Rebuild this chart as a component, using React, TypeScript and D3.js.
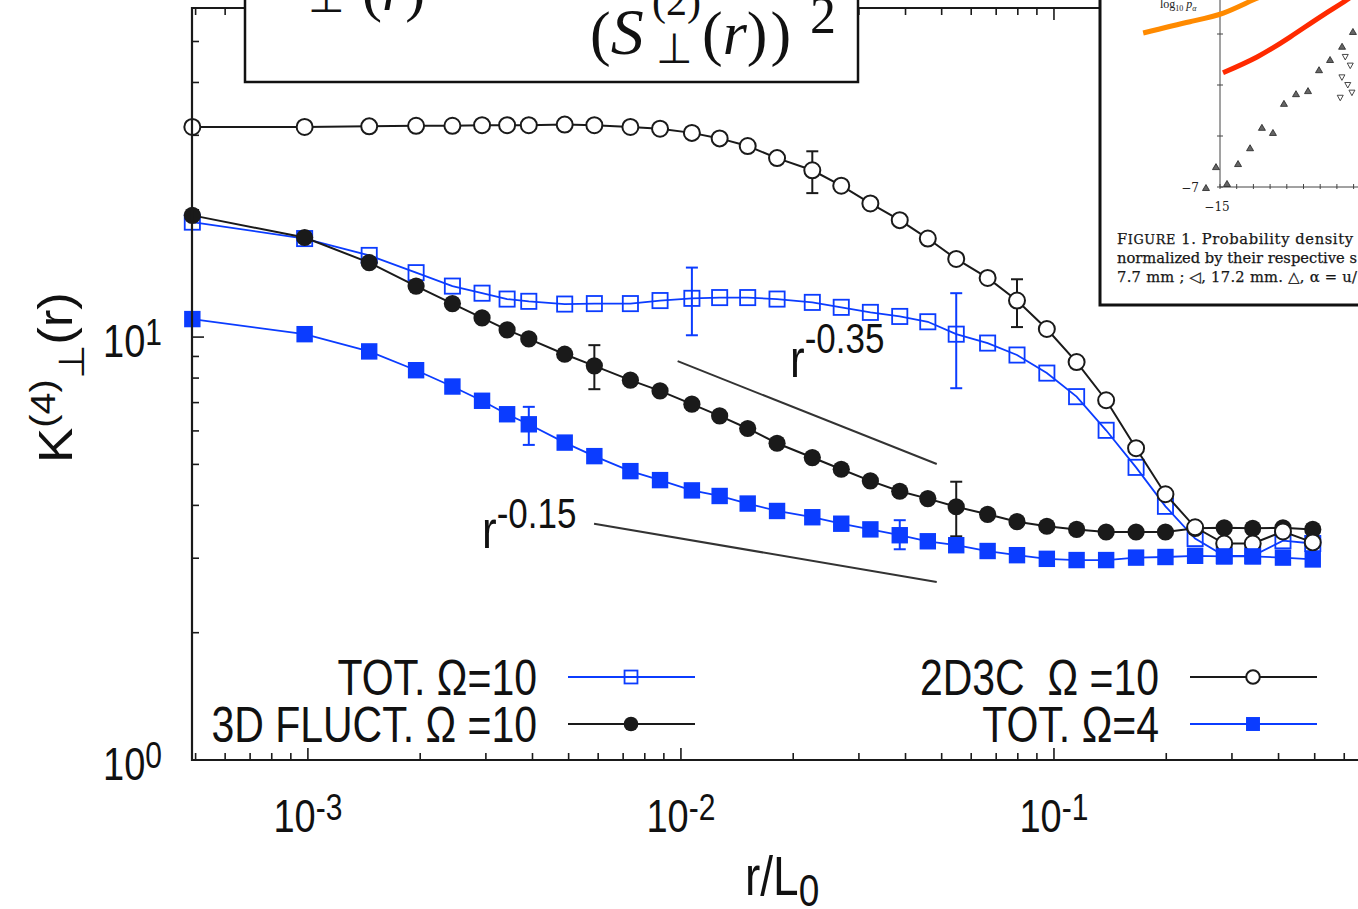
import React from "react";
import * as d3 from "d3";

// Separations r/L0 shared by the four curves
const rOverL0 = [
  0.00049, 0.00098, 0.00146, 0.00195, 0.00244, 0.00293, 0.00342, 0.00391,
  0.00488, 0.00586, 0.00732, 0.00879, 0.0107, 0.0127, 0.0151, 0.0181,
  0.0225, 0.0269, 0.0322, 0.0386, 0.0459, 0.0547, 0.0664, 0.0796,
  0.0957, 0.115, 0.138, 0.166, 0.199, 0.239, 0.286, 0.341, 0.411, 0.494,
];

// K_perp^(4)(r) for each run
const kTot10 = [
  18.7, 17.1, 15.6, 14.2, 13.2, 12.7, 12.3, 12.15, 11.97, 12.0, 12.0, 12.2,
  12.35, 12.4, 12.4, 12.3, 12.08, 11.76, 11.44, 11.19, 10.87, 10.16, 9.68,
  9.07, 8.22, 7.23, 6.02, 4.92, 3.98, 3.34, 3.04, 3.04, 3.3, 3.25,
];
const kFluct10 = [
  19.4, 17.2, 15.0, 13.2, 12.0, 11.1, 10.4, 9.9, 9.11, 8.55, 7.91, 7.46,
  6.94, 6.51, 6.08, 5.61, 5.19, 4.87, 4.57, 4.32, 4.15, 3.97, 3.81, 3.66,
  3.57, 3.51, 3.46, 3.46, 3.46, 3.53, 3.54, 3.53, 3.54, 3.51,
];
const k2D3C = [
  31.4, 31.4, 31.5, 31.6, 31.6, 31.7, 31.7, 31.7, 31.8, 31.7, 31.4, 31.1,
  30.4, 29.5, 28.3, 26.5, 24.8, 22.8, 20.7, 18.9, 17.1, 15.3, 13.8, 12.2,
  10.45, 8.73, 7.09, 5.46, 4.25, 3.55, 3.25, 3.25, 3.47, 3.27,
];
const kTot4 = [
  11.03, 10.16, 9.25, 8.35, 7.64, 7.07, 6.57, 6.22, 5.63, 5.23, 4.82, 4.59,
  4.34, 4.21, 4.04, 3.88, 3.75, 3.62, 3.51, 3.4, 3.29, 3.22, 3.12, 3.05,
  2.99, 2.97, 2.97, 3.01, 3.02, 3.04, 3.03, 3.03, 3.01, 2.98,
];

// Error bars (r, low, high)
const errTot10 = [
  { r: 0.0107, lo: 10.1, hi: 14.6 },
  { r: 0.0547, lo: 7.57, hi: 12.7 },
];
const errFluct10 = [
  { r: 0.00586, lo: 7.53, hi: 9.57 },
  { r: 0.0547, lo: 3.38, hi: 4.55 },
];
const err2D3C = [
  { r: 0.0225, lo: 21.9, hi: 27.5 },
  { r: 0.0796, lo: 10.56, hi: 13.7 },
];
const errTot4 = [
  { r: 0.00391, lo: 5.56, hi: 6.84 },
  { r: 0.0386, lo: 3.15, hi: 3.69 },
];

// Power-law guides
const guides = [
  { r0: 0.0098, r1: 0.0485, k0: 8.77, exponent: -0.35, label: "-0.35" },
  { r0: 0.00585, r1: 0.0485, k0: 3.62, exponent: -0.15, label: "-0.15" },
];

// Axis ranges
const xDomain = [4.89e-4, 1];
const yDomain = [1, 60];
const xMajor = [1e-3, 1e-2, 1e-1];
const yMajor = [1, 10];

// Inset figure: scanned probability-density plot (its own units)
const insetTriangles = [
  [-15.84, -7.02], [-15.24, -6.61], [-14.58, -6.94], [-13.92, -6.55],
  [-13.2, -6.24], [-12.49, -5.84], [-11.83, -5.94], [-11.17, -5.37],
  [-10.45, -5.18], [-9.73, -5.12], [-9.07, -4.71], [-8.41, -4.51],
  [-7.69, -4.25], [-7.04, -3.96],
];
const insetOthers = [
  [-7.5, -4.45], [-7.2, -4.62], [-7.7, -4.85], [-7.35, -5.0], [-7.8, -5.25], [-7.1, -5.15],
];
const insetOrange = [
  [-19.6, -3.98], [-16.8, -3.76], [-14.8, -3.59], [-13.0, -3.33], [-11.4, -3.12],
];
const insetRed = [
  [-14.82, -4.76], [-12.78, -4.45], [-10.81, -4.06], [-8.83, -3.63],
  [-7.4, -3.33], [-6.3, -3.04],
];
const insetCaption = [
  "normalized by their respective s",
  "7.7 mm ; \u25C1, 17.2 mm. \u25B3, \u03B1 = u/",
];

const SANS = "'Liberation Sans', Arial, Helvetica, sans-serif";
const SERIF = "'Liberation Serif', 'Times New Roman', serif";
const WIDE_SERIF = "'DejaVu Serif', 'Liberation Serif', serif";
const STRETCH = 1.2;
const BLUE = "#0b3cff";
const BLACK = "#1a1a1a";

type LabelProps = {
  x: number;
  y: number;
  size: number;
  anchor?: "start" | "middle" | "end";
  children: React.ReactNode;
};

function Label({ x, y, size, anchor = "start", children }: LabelProps) {
  return (
    <text
      transform={`translate(${x},${y}) scale(1,${STRETCH})`}
      fontFamily={SANS}
      fontSize={size}
      textAnchor={anchor}
      fill="#111"
    >
      {children}
    </text>
  );
}

type MarkerKind = "openSquare" | "filledCircle" | "openCircle" | "filledSquare";

function Marker({ kind, cx, cy, s = 1 }: { kind: MarkerKind; cx: number; cy: number; s?: number }) {
  if (kind === "openSquare") {
    const h = 7.6 * s;
    return <rect x={cx - h} y={cy - h} width={2 * h} height={2 * h} fill="none" stroke={BLUE} strokeWidth={1.8} />;
  }
  if (kind === "filledSquare") {
    const h = 8.2 * s;
    return <rect x={cx - h} y={cy - h} width={2 * h} height={2 * h} fill={BLUE} />;
  }
  if (kind === "filledCircle") {
    return <circle cx={cx} cy={cy} r={8.6 * s} fill={BLACK} />;
  }
  return <circle cx={cx} cy={cy} r={8 * s} fill="#fff" stroke={BLACK} strokeWidth={2} />;
}

export default function App() {
  const x = d3.scaleLog().domain(xDomain).range([192, 1427]);
  const y = d3.scaleLog().domain(yDomain).range([760, 8]);
  const line = d3.line<[number, number]>();

  const series = [
    { vals: kTot10, err: errTot10, kind: "openSquare" as MarkerKind, color: BLUE, width: 1.8 },
    { vals: kFluct10, err: errFluct10, kind: "filledCircle" as MarkerKind, color: BLACK, width: 2 },
    { vals: k2D3C, err: err2D3C, kind: "openCircle" as MarkerKind, color: BLACK, width: 2 },
    { vals: kTot4, err: errTot4, kind: "filledSquare" as MarkerKind, color: BLUE, width: 1.8 },
  ];

  const xTicks: { v: number; major: boolean }[] = [];
  for (let e = -4; e <= 0; e++)
    for (let d = 1; d <= 9; d++) {
      const v = d * Math.pow(10, e);
      if (v >= xDomain[0] && v <= xDomain[1] * 1.0001) xTicks.push({ v, major: d === 1 });
    }
  const yTicks: { v: number; major: boolean }[] = [];
  for (let e = 0; e <= 1; e++)
    for (let d = 1; d <= 9; d++) {
      const v = d * Math.pow(10, e);
      if (v >= yDomain[0] && v <= yDomain[1]) yTicks.push({ v, major: d === 1 });
    }

  const [x0, x1] = x.range();
  const [yb, yt] = y.range();

  // inset scales
  const ix = d3.scaleLinear().domain([-15, -14]).range([1220, 1236.7]);
  const iy = d3.scaleLinear().domain([-7, -6]).range([187, 136]);
  const curve = d3
    .line<number[]>()
    .x((p) => ix(p[0]))
    .y((p) => iy(p[1]))
    .curve(d3.curveNatural);

  const legend = [
    { label: "TOT. \u03A9=10", kind: "openSquare" as MarkerKind, color: BLUE, lx: 568, ly: 677 },
    { label: "3D FLUCT. \u03A9 =10", kind: "filledCircle" as MarkerKind, color: BLACK, lx: 568, ly: 724 },
    { label: "2D3C\u00A0\u00A0\u03A9 =10", kind: "openCircle" as MarkerKind, color: BLACK, lx: 1190, ly: 677 },
    { label: "TOT. \u03A9=4", kind: "filledSquare" as MarkerKind, color: BLUE, lx: 1190, ly: 724 },
  ];

  const captionProps = {
    fontFamily: WIDE_SERIF,
    fontSize: 14.7,
    fill: "#161616",
    stroke: "#161616",
    strokeWidth: 0.25,
    lengthAdjust: "spacing" as const,
  };

  return (
    <svg
      width={1358}
      height={909}
      viewBox="0 0 1358 909"
      style={{ position: "absolute", left: 0, top: 0, background: "#fff" }}
    >
      <rect x={0} y={0} width={1358} height={909} fill="#fff" />

      {/* data */}
      {series.map((s, si) => {
        const pts = rOverL0.map((r, i) => [x(r), y(s.vals[i])] as [number, number]);
        return (
          <g key={si}>
            <path d={line(pts) ?? ""} fill="none" stroke={s.color} strokeWidth={s.width} />
            {s.err.map((e, ei) => {
              const cx = x(e.r);
              return (
                <g key={ei} stroke={s.color} strokeWidth={2}>
                  <line x1={cx} x2={cx} y1={y(e.lo)} y2={y(e.hi)} />
                  <line x1={cx - 6} x2={cx + 6} y1={y(e.lo)} y2={y(e.lo)} />
                  <line x1={cx - 6} x2={cx + 6} y1={y(e.hi)} y2={y(e.hi)} />
                </g>
              );
            })}
            {pts.map((p, i) => (
              <Marker key={i} kind={s.kind} cx={p[0]} cy={p[1]} />
            ))}
          </g>
        );
      })}

      {/* frame and ticks */}
      <g stroke={BLACK} strokeWidth={1.6} fill="none">
        <path d={`M${x1},${yt}H${x0}V${yb}H${x1}`} strokeWidth={2.2} />
        {xTicks.map((t, i) => {
          const len = t.major ? 12 : 7;
          const px = x(t.v);
          return (
            <g key={i}>
              <line x1={px} x2={px} y1={yb} y2={yb - len} />
              <line x1={px} x2={px} y1={yt} y2={yt + len} />
            </g>
          );
        })}
        {yTicks.map((t, i) => {
          const len = t.major ? 12 : 7;
          const py = y(t.v);
          return <line key={i} x1={x0} x2={x0 + len} y1={py} y2={py} />;
        })}
      </g>

      {/* tick labels */}
      {xMajor.map((v) => (
        <Label key={v} x={x(v)} y={832} size={38} anchor="middle">
          <tspan>10</tspan>
          <tspan dy={-10} fontSize={30}>{String(Math.round(Math.log10(v)))}</tspan>
        </Label>
      ))}
      {yMajor.map((v) => (
        <Label key={v} x={162} y={y(v) + 20} size={38} anchor="end">
          <tspan>10</tspan>
          <tspan dy={-10} fontSize={30}>{String(Math.round(Math.log10(v)))}</tspan>
        </Label>
      ))}

      {/* axis titles */}
      <Label x={745} y={895} size={46}>
        <tspan>r/L</tspan>
        <tspan dy={9} fontSize={37}>0</tspan>
      </Label>
      <text
        transform="translate(72,463) rotate(-90) scale(1.1,1)"
        fontFamily={SANS}
        fontSize={48}
        fill="#111"
      >
        <tspan>K</tspan>
        <tspan dy={-17} fontSize={36}>(4)</tspan>
        <tspan dy={29} fontSize={36}>{"\u22A5"}</tspan>
        <tspan dy={-12}>(r)</tspan>
      </text>

      {/* power-law guides */}
      {guides.map((g, i) => {
        const k1 = g.k0 * Math.pow(g.r1 / g.r0, g.exponent);
        return (
          <line
            key={i}
            x1={x(g.r0)}
            y1={y(g.k0)}
            x2={x(g.r1)}
            y2={y(k1)}
            stroke="#333"
            strokeWidth={2}
          />
        );
      })}
      <Label x={790} y={377} size={44}>
        <tspan>r</tspan>
        <tspan dy={-20} fontSize={35}>{guides[0].label}</tspan>
      </Label>
      <Label x={482} y={548} size={44}>
        <tspan>r</tspan>
        <tspan dy={-17} fontSize={35}>{guides[1].label}</tspan>
      </Label>

      {/* legend */}
      {legend.map((l, i) => (
        <g key={i}>
          <Label x={l.lx - 31} y={l.ly + 18} size={41} anchor="end">
            {l.label}
          </Label>
          <line x1={l.lx} x2={l.lx + 127} y1={l.ly} y2={l.ly} stroke={l.color} strokeWidth={2} />
          <Marker kind={l.kind} cx={l.lx + 63} cy={l.ly} s={0.85} />
        </g>
      ))}

      {/* formula box */}
      <g>
        <rect x={245} y={-20} width={613} height={102} fill="#fff" stroke="#111" strokeWidth={2.5} />
        <text fontFamily={SERIF} fill="#111">
          <tspan x={258} y={-4} fontSize={60} fontStyle="italic">K</tspan>
          <tspan x={308} y={12} fontSize={42}>{"\u22A5"}</tspan>
          <tspan x={362} y={10} fontSize={60}>(</tspan>
          <tspan fontSize={60} fontStyle="italic">r</tspan>
          <tspan fontSize={60}>)</tspan>
        </text>
        <text fontFamily={SERIF} fill="#111">
          <tspan x={590} y={54} fontSize={62}>(</tspan>
          <tspan fontSize={66} fontStyle="italic">S</tspan>
          <tspan x={652} y={15} fontSize={42}>(2)</tspan>
          <tspan x={656} y={63} fontSize={42}>{"\u22A5"}</tspan>
          <tspan x={702} y={54} fontSize={62}>(</tspan>
          <tspan fontSize={62} fontStyle="italic">r</tspan>
          <tspan fontSize={62} letterSpacing={3}>))</tspan>
          <tspan x={810} y={33} fontSize={52}>2</tspan>
        </text>
      </g>

      {/* inset figure */}
      <g>
        <rect x={1100} y={-20} width={300} height={325} fill="#fff" stroke="#111" strokeWidth={3} />
        <g stroke="#444" strokeWidth={1} fill="none">
          <line x1={ix(-15)} x2={ix(-15)} y1={-5} y2={iy(-7)} />
          <line x1={ix(-15)} x2={1365} y1={iy(-7)} y2={iy(-7)} />
          {d3.range(-15, -6).map((v) => (
            <line key={v} x1={ix(v)} x2={ix(v)} y1={iy(-7) - 3} y2={iy(-7) + 2} />
          ))}
          {d3.range(-7, -3).map((v) => (
            <line key={v} x1={ix(-15) - 3} x2={ix(-15) + 3} y1={iy(v)} y2={iy(v)} />
          ))}
        </g>
        {insetTriangles.map((p, i) => {
          const cx = ix(p[0]);
          const cy = iy(p[1]);
          return (
            <path
              key={i}
              d={`M${cx},${cy - 3.5}L${cx + 3.5},${cy + 2.5}L${cx - 3.5},${cy + 2.5}Z`}
              fill="#666"
              stroke="#222"
              strokeWidth={0.8}
            />
          );
        })}
        {insetOthers.map((p, i) => {
          const cx = ix(p[0]);
          const cy = iy(p[1]);
          return (
            <path
              key={i}
              d={`M${cx - 3},${cy - 2.5}L${cx + 3},${cy - 2.5}L${cx},${cy + 3}Z`}
              fill="none"
              stroke="#333"
              strokeWidth={0.9}
            />
          );
        })}
        <path d={curve(insetOrange) ?? ""} fill="none" stroke="#ff8a00" strokeWidth={5} />
        <path d={curve(insetRed) ?? ""} fill="none" stroke="#ff2a00" strokeWidth={5} />
        <text x={1160} y={8} fontFamily={SERIF} fontSize={12} fill="#222">
          <tspan>log</tspan>
          <tspan dy={3} fontSize={8}>10</tspan>
          <tspan dy={-3} fontStyle="italic"> p</tspan>
          <tspan dy={3} fontSize={8} fontStyle="italic">{"\u03B1"}</tspan>
        </text>
        <text x={1199} y={192} fontFamily={WIDE_SERIF} fontSize={12} fill="#222" textAnchor="end">
          {"\u22127"}
        </text>
        <text x={1217} y={211} fontFamily={WIDE_SERIF} fontSize={12} fill="#222" textAnchor="middle">
          {"\u221215"}
        </text>
        <text x={1117} y={244} textLength={236} {...captionProps}>
          <tspan>F</tspan>
          <tspan fontSize={12.8}>IGURE</tspan>
          <tspan> 1. Probability density</tspan>
        </text>
        {insetCaption.map((c, i) => (
          <text key={i} x={1117} y={263 + i * 18.5} textLength={240} {...captionProps}>
            {c}
          </text>
        ))}
      </g>
    </svg>
  );
}
